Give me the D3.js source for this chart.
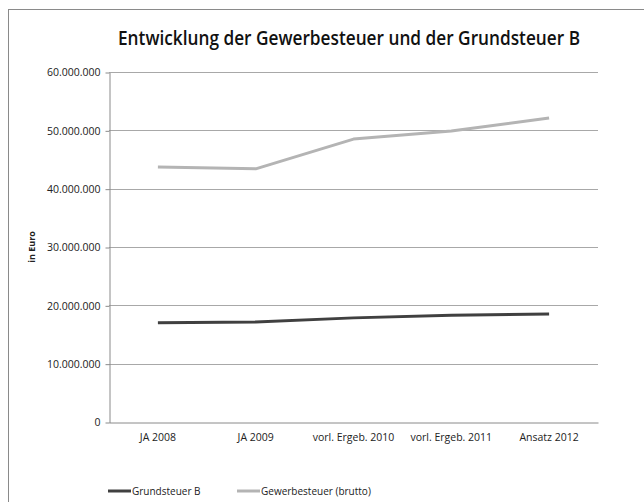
<!DOCTYPE html>
<html>
<head>
<meta charset="utf-8">
<script src="https://cdn.jsdelivr.net/npm/d3@7"></script>
<style>
  body { margin: 0; background: #fff; }
  text { font-family: "Open Sans", "DejaVu Sans", sans-serif; fill: #222; }
</style>
</head>
<body>
<svg id="chart" width="644" height="502"></svg>
<script>
const categories = ["JA 2008", "JA 2009", "vorl. Ergeb. 2010", "vorl. Ergeb. 2011", "Ansatz 2012"];
const grundsteuer = [17000000, 17150000, 17850000, 18300000, 18500000];
const gewerbesteuer = [43700000, 43400000, 48500000, 49900000, 52100000];
const yTicks = [0, 10000000, 20000000, 30000000, 40000000, 50000000, 60000000];

const series = [
  { name: "Grundsteuer B", values: grundsteuer, color: "#404040" },
  { name: "Gewerbesteuer (brutto)", values: gewerbesteuer, color: "#b4b4b4" }
];

const svg = d3.select("#chart");

// outer chart frame
svg.append("rect")
  .attr("x", 8.5).attr("y", 9.5)
  .attr("width", 660).attr("height", 520)
  .attr("fill", "none")
  .attr("stroke", "#8a8a8a");

svg.append("text")
  .attr("x", 349).attr("y", 45)
  .attr("text-anchor", "middle")
  .attr("textLength", 462)
  .attr("lengthAdjust", "spacingAndGlyphs")
  .style("font-size", "19px")
  .style("font-weight", "600")
  .style("fill", "#111")
  .text("Entwicklung der Gewerbesteuer und der Grundsteuer B");

const plotLeft = 109, plotRight = 598, plotTop = 72, plotBottom = 422;

const x = d3.scaleBand().domain(categories).range([plotLeft, plotRight]);
const y = d3.scaleLinear().domain([0, 60000000]).range([plotBottom, plotTop]);

const fmt = d => d3.format(",")(d).replace(/,/g, ".");

// gridlines
svg.append("g")
  .selectAll("line")
  .data(yTicks.slice(1))
  .enter().append("line")
  .attr("x1", plotLeft).attr("x2", plotRight)
  .attr("y1", d => Math.round(y(d)) + 0.5)
  .attr("y2", d => Math.round(y(d)) + 0.5)
  .attr("stroke", "#a8a8a8");

const yAxis = svg.append("g")
  .attr("transform", `translate(${plotLeft + 0.5},0.5)`)
  .call(d3.axisLeft(y).tickValues(yTicks).tickFormat(fmt).tickSize(4).tickSizeOuter(0));
yAxis.select(".domain").attr("stroke", "#8a8a8a");
yAxis.selectAll(".tick line").attr("stroke", "#8a8a8a");
yAxis.selectAll("text").style("font-size", "10.5px").attr("x", -9).attr("fill", "#222");

const xAxis = svg.append("g")
  .attr("transform", `translate(0,${plotBottom + 0.5})`)
  .call(d3.axisBottom(x).tickSize(0).tickSizeOuter(0));
xAxis.select(".domain").attr("stroke", "#8a8a8a");
xAxis.selectAll("text").style("font-size", "10.5px").attr("dy", "0").attr("y", 18).attr("fill", "#222");

svg.append("text")
  .attr("transform", "translate(35,247) rotate(-90)")
  .attr("text-anchor", "middle")
  .style("font-size", "9px")
  .style("font-weight", "bold")
  .text("in Euro");

const line = d3.line()
  .x((d, i) => x(categories[i]) + x.bandwidth() / 2)
  .y(d => y(d));

series.forEach(s => {
  svg.append("path")
    .datum(s.values)
    .attr("d", line)
    .attr("fill", "none")
    .attr("stroke", s.color)
    .attr("stroke-width", 3)
    .attr("stroke-linejoin", "round");
});

// legend
const legendPos = [108, 237];
const legend = svg.append("g").selectAll("g")
  .data(series)
  .enter().append("g")
  .attr("transform", (d, i) => `translate(${legendPos[i]},491)`);
legend.append("line")
  .attr("x1", 0).attr("x2", 23)
  .attr("stroke", d => d.color)
  .attr("stroke-width", 3);
legend.append("text")
  .attr("x", 24).attr("y", 3.5)
  .style("font-size", "10px")
  .text(d => d.name);
</script>
</body>
</html>
